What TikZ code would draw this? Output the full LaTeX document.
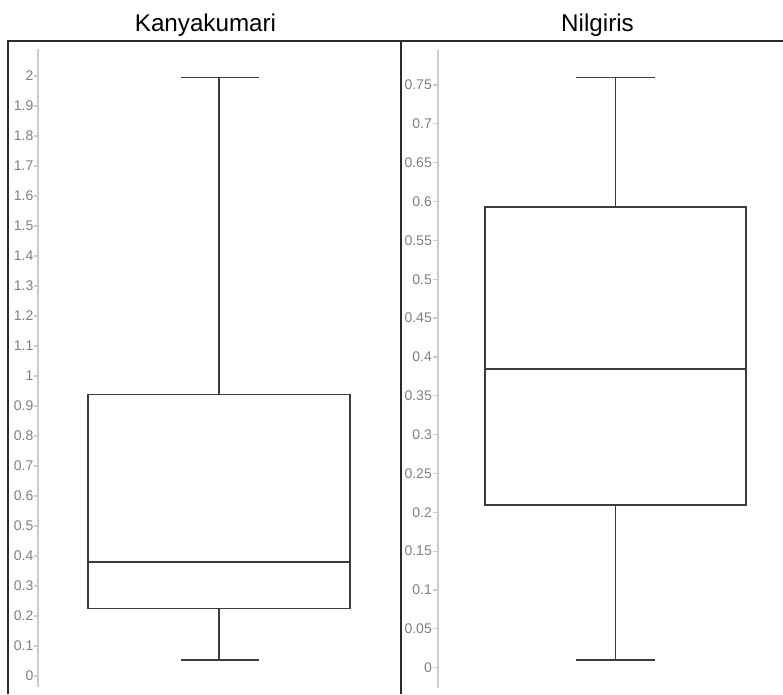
\documentclass[tikz,border=0pt]{standalone}
\usepackage{fontspec}
\setmainfont{Liberation Sans}
\definecolor{framec}{HTML}{2A2A2A}
\definecolor{boxc}{HTML}{3C3C3C}
\definecolor{axisc}{HTML}{CCCCCC}
\definecolor{tickc}{HTML}{808080}
\begin{document}
\begin{tikzpicture}[x=1pt,y=-1pt,
  frameline/.style={draw=framec,line width=2.2pt},
  boxline/.style={draw=boxc,line width=1.8pt},
  axisline/.style={draw=axisc,line width=1.2pt},
  ticklab/.style={anchor=east,text=tickc,font=\fontsize{14}{15}\selectfont,inner sep=0pt},
  titlelab/.style={anchor=base,font=\fontsize{24.2}{26}\selectfont,inner sep=0pt,text=black}]
\useasboundingbox (0,0) rectangle (783,694);
% titles
\node[titlelab] (t1) at (205.5,31) {Kanyakumari};
\node[titlelab] (t2) at (597.5,31) {Nilgiris};
% frame
\draw[frameline] (8,694) -- (8,41) -- (784,41);
\draw[frameline] (401,41) -- (401,694);
% left axis
\draw[axisline] (38,49) -- (38,687);
\foreach \v/\lab in {0/0,1/0.1,2/0.2,3/0.3,4/0.4,5/0.5,6/0.6,7/0.7,8/0.8,9/0.9,10/1,11/1.1,12/1.2,13/1.3,14/1.4,15/1.5,16/1.6,17/1.7,18/1.8,19/1.9,20/2}{
  \draw[axisline] (34,676-30*\v) -- (38,676-30*\v);
  \node[ticklab] (la\v) at (33.5,676-30*\v) {\lab};
}
% right axis
\draw[axisline] (438,50) -- (438,688);
\foreach \v/\lab in {0/0,1/0.05,2/0.1,3/0.15,4/0.2,5/0.25,6/0.3,7/0.35,8/0.4,9/0.45,10/0.5,11/0.55,12/0.6,13/0.65,14/0.7,15/0.75}{
  \draw[axisline] (433,667.7-38.85*\v) -- (438,667.7-38.85*\v);
  \node[ticklab] (lb\v) at (432,667.7-38.85*\v) {\lab};
}
% Kanyakumari box plot
\coordinate (kwt) at (219,77.5);
\coordinate (kwb) at (219,660);
\draw[boxline] (181,77.5) -- (259,77.5);
\draw[boxline] (kwt) -- (219,394.5);
\draw[boxline] (88,394.5) rectangle (350,608.5);
\draw[boxline] (88,562) -- (350,562);
\draw[boxline] (219,608.5) -- (kwb);
\draw[boxline] (181,660) -- (259,660);
% Nilgiris box plot
\coordinate (nwt) at (615.5,77.5);
\coordinate (nwb) at (615.5,660);
\draw[boxline] (576,77.5) -- (655,77.5);
\draw[boxline] (nwt) -- (615.5,206.7);
\draw[boxline] (485,206.7) rectangle (746,505);
\draw[boxline] (485,369.3) -- (746,369.3);
\draw[boxline] (615.5,505) -- (nwb);
\draw[boxline] (576,660) -- (655,660);
\end{tikzpicture}
\end{document}
